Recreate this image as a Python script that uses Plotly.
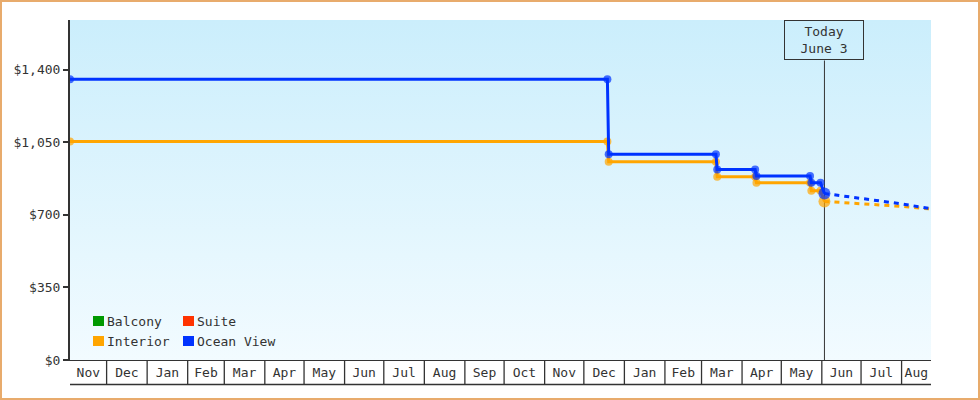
import pandas as pd
import plotly.graph_objects as go

# price history per cabin (solid part, ends on "today")
history_dates = ["2013-11-03", "2014-12-19", "2014-12-20", "2015-03-12", "2015-03-13",
                 "2015-04-11", "2015-04-12", "2015-05-23", "2015-05-24", "2015-05-31",
                 "2015-06-03"]
interior_hist = [1054, 1054, 956, 956, 884, 884, 855, 855, 816, 816, 765]
ocean_hist    = [1354, 1354, 992, 992, 919, 919, 888, 888, 855, 855, 803]

# projected prices (dotted part)
forecast_dates = ["2015-06-03", "2015-07-01", "2015-08-01", "2015-08-22"]
interior_fc    = [765, 754, 741, 729]
ocean_fc       = [803, 780, 753, 731]

legend_names  = ["Balcony", "Suite", "Interior", "Ocean View"]
legend_colors = ["#009900", "#ff3300", "#ffa500", "#0033ff"]

y_ticks    = [0, 350, 700, 1050, 1400]
today      = "2015-06-03"
today_text = "Today<br>June 3"

x_start = pd.Timestamp("2013-11-03")
x_end   = pd.Timestamp("2015-08-23 12:00")
y_top   = 1640

FONT = "DejaVu Sans Mono"
INK  = "#333333"

# pixel frame of the plot area, used for the decorations around it
L, T, W, H = 70, 20, 861, 340
def px(x):
    return (x - L) / W
def py(y):
    return (T + H - y) / H

fig = go.Figure()

# light blue gradient behind the lines
fig.add_trace(go.Scatter(
    x=[x_start, x_end, x_end, x_start], y=[0, 0, y_top, y_top],
    mode="lines", line=dict(width=0), fill="toself",
    fillgradient=dict(type="vertical", start=0, stop=y_top,
                      colorscale=[[0, "#f2fbff"], [1, "#cbeefc"]]),
    hoverinfo="skip", showlegend=False,
))

# "today" line, under the markers, up to the label box
fig.add_trace(go.Scatter(
    x=[today, today], y=[0, py(60.5) * y_top], mode="lines",
    line=dict(color=INK, width=1), hoverinfo="skip", showlegend=False,
))

series = [("Interior", interior_hist, interior_fc, legend_colors[2]),
          ("Ocean View", ocean_hist, ocean_fc, legend_colors[3])]

for name, hist, fc, color in series:
    sizes = [8] * (len(hist) - 1) + [12]
    fig.add_trace(go.Scatter(
        x=pd.to_datetime(forecast_dates), y=fc, mode="lines", name=name,
        line=dict(color=color, width=3, dash="5px,5px"),
        showlegend=False,
    ))
    fig.add_trace(go.Scatter(
        x=pd.to_datetime(history_dates), y=hist, mode="lines+markers", name=name,
        line=dict(color=color, width=3),
        marker=dict(color=color, size=sizes, line=dict(width=0)),
        showlegend=False,
    ))

# month cells under the axis
months = pd.date_range("2013-11-01", x_end, freq="MS")
tickvals, ticktext = [], []
for m in months:
    a = max(m, x_start)
    b = min(m + pd.offsets.MonthBegin(1), x_end)
    tickvals.append(a + (b - a) / 2)
    ticktext.append(m.strftime("%b"))
    if m > x_start:
        fig.add_shape(type="line", xref="x", yref="paper", x0=m, x1=m,
                      y0=0, y1=py(384.5), line=dict(color=INK, width=1.3))
fig.add_shape(type="line", xref="paper", yref="paper", x0=0, x1=1,
              y0=py(384.5), y1=py(384.5), line=dict(color=INK, width=1.3))

fig.add_annotation(x=today, xref="x", y=1, yref="paper", yanchor="top",
                   text=today_text, showarrow=False, width=78, height=38,
                   bordercolor=INK, borderwidth=1, borderpad=0,
                   font=dict(family=FONT, size=13, color=INK))

# legend, two per row
for i, (name, color) in enumerate(zip(legend_names, legend_colors)):
    col, row = i % 2, i // 2
    sx = 93 + col * 90
    sy = 316 + row * 20
    fig.add_shape(type="rect", xref="paper", yref="paper",
                  x0=px(sx), x1=px(sx + 11), y0=py(sy), y1=py(sy + 10),
                  fillcolor=color, line=dict(width=0))
    fig.add_annotation(x=px(sx + 12), y=py(sy + 5), xref="paper", yref="paper",
                       xanchor="left", yanchor="middle", text=name, showarrow=False,
                       font=dict(family=FONT, size=13, color=INK))

# orange frame round the whole picture
fig.add_shape(type="rect", xref="paper", yref="paper",
              x0=px(1), x1=px(979), y0=py(399), y1=py(1),
              line=dict(color="#e8ab6c", width=2))

fig.update_layout(
    width=980, height=400,
    margin=dict(l=L, r=980 - L - W, t=T, b=400 - T - H),
    paper_bgcolor="white", plot_bgcolor="white",
    font=dict(family=FONT, size=13, color=INK),
    showlegend=False,
)
fig.update_xaxes(range=[x_start, x_end], tickmode="array", tickvals=tickvals,
                 ticktext=ticktext, ticks="",
                 showgrid=False, zeroline=False,
                 showline=True, linecolor=INK, linewidth=1,
                 tickfont=dict(family=FONT, size=13, color=INK))
fig.update_yaxes(range=[0, y_top], tickmode="array", tickvals=y_ticks,
                 ticktext=["$" + f"{v:,}" for v in y_ticks],
                 ticks="outside", ticklen=5, tickwidth=2, tickcolor=INK,
                 showgrid=False, zeroline=False, showline=True, linecolor=INK,
                 linewidth=2, tickfont=dict(family=FONT, size=13, color=INK))

fig.write_html("out.html", config={"displayModeBar": False},
               post_script="document.body.style.margin = '0';")
